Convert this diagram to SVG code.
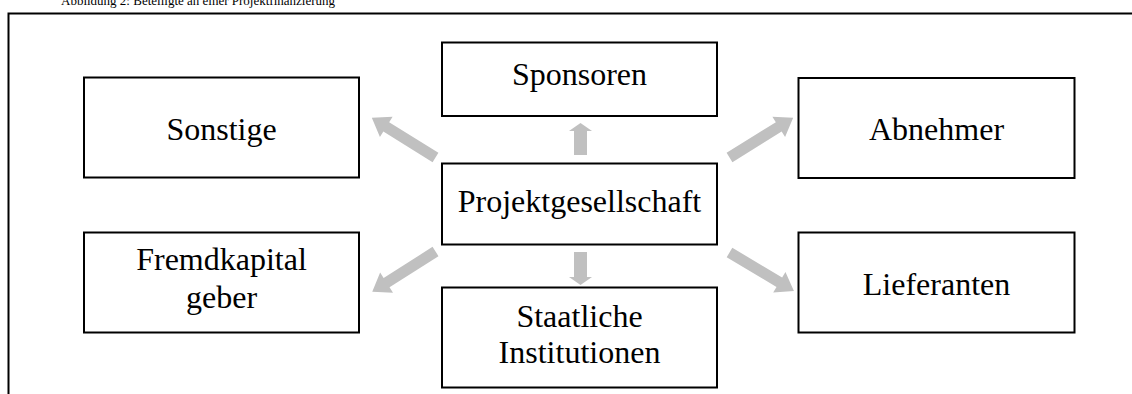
<svg xmlns="http://www.w3.org/2000/svg" width="1132" height="394" viewBox="0 0 1132 394">
  <style>
    .box { fill: #ffffff; stroke: #000000; stroke-width: 2; }
    .lbl { font-family: "Liberation Serif", "Times New Roman", serif; font-size: 32px; fill: #000000; text-anchor: middle; }
    .title { font-family: "Liberation Serif", "Times New Roman", serif; font-size: 13px; fill: #000000; }
    .arrow { fill: #c0c0c0; stroke: none; }
    .frame { fill: none; stroke: #000000; stroke-width: 2; }
  </style>
  <rect x="0" y="0" width="1132" height="394" fill="#ffffff"/>
  <text class="title" x="61" y="5">Abbildung 2: Beteiligte an einer Projektfinanzierung</text>
  <path class="frame" d="M8.5,394 V13.5 H1132"/>

  <g id="connectors">
    <polygon class="arrow" points="574,155 574,131 569,131 580.5,123 592,131 587,131 587,155"/>
    <polygon class="arrow" points="574,252 574,277 569,277 580.5,285 592,277 587,277 587,252"/>
    <polygon class="arrow" transform="translate(435.5,157.5) rotate(-148.1)" points="0,-5.5 58,-5.5 58,-12 75,0 58,12 58,5.5 0,5.5"/>
    <polygon class="arrow" transform="translate(729.5,157.5) rotate(-31.9)" points="0,-5.5 58,-5.5 58,-12 75,0 58,12 58,5.5 0,5.5"/>
    <polygon class="arrow" transform="translate(435.5,251.5) rotate(147.5)" points="0,-5.5 58,-5.5 58,-12 75,0 58,12 58,5.5 0,5.5"/>
    <polygon class="arrow" transform="translate(729.5,252.5) rotate(30.8)" points="0,-5.5 58,-5.5 58,-12 75,0 58,12 58,5.5 0,5.5"/>
  </g>

  <g id="sponsoren">
    <rect class="box" x="442" y="42.5" width="275" height="73.5"/>
    <text class="lbl" x="579.5" y="85">Sponsoren</text>
  </g>
  <g id="projektgesellschaft">
    <rect class="box" x="442" y="163.5" width="275" height="81"/>
    <text class="lbl" x="579.5" y="212">Projektgesellschaft</text>
  </g>
  <g id="staatliche">
    <rect class="box" x="442" y="287.5" width="275" height="100"/>
    <text class="lbl" x="579.5" y="327">Staatliche</text>
    <text class="lbl" x="579.5" y="363">Institutionen</text>
  </g>
  <g id="sonstige">
    <rect class="box" x="84" y="77.5" width="275" height="100"/>
    <text class="lbl" x="221.5" y="140">Sonstige</text>
  </g>
  <g id="fremdkapital">
    <rect class="box" x="84" y="232.5" width="275" height="100"/>
    <text class="lbl" x="221.5" y="270">Fremdkapital</text>
    <text class="lbl" x="221.5" y="308">geber</text>
  </g>
  <g id="abnehmer">
    <rect class="box" x="798.5" y="78" width="276" height="100"/>
    <text class="lbl" x="936.5" y="140">Abnehmer</text>
  </g>
  <g id="lieferanten">
    <rect class="box" x="798.5" y="232.5" width="276" height="100"/>
    <text class="lbl" x="936.5" y="295">Lieferanten</text>
  </g>
</svg>
